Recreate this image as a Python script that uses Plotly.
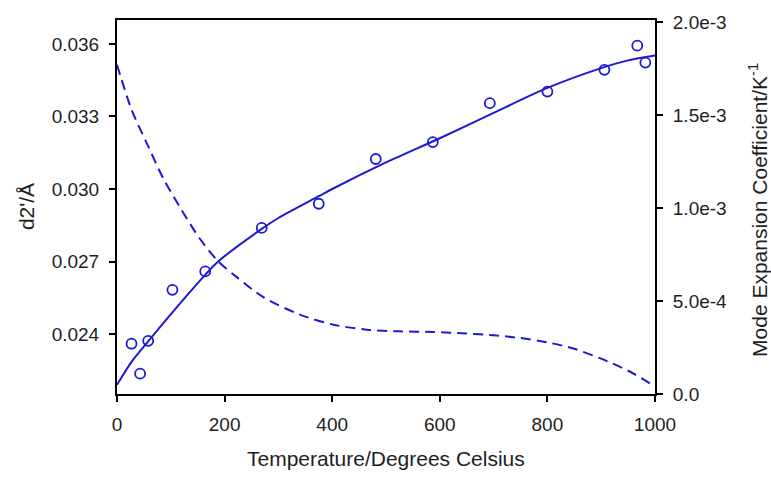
import plotly.graph_objects as go

# Observed d2' values (left axis)
temp_obs = [27, 43, 58, 103, 164, 269, 375, 481, 587, 693, 800, 906, 967, 982]
d2_obs = [0.02360, 0.02236, 0.02372, 0.02583, 0.02659, 0.02839, 0.02939,
          0.03124, 0.03194, 0.03355, 0.03403, 0.03493, 0.03593, 0.03523]

# Fitted d2' curve (left axis)
temp_fit = [0, 27, 58, 103, 164, 188, 269, 300, 375, 400, 500, 600, 700, 800, 900, 950, 1000]
d2_fit = [0.02190, 0.02285, 0.02370, 0.02490, 0.02645, 0.02700, 0.02835, 0.02880,
          0.02970, 0.03000, 0.03110, 0.03210, 0.03315, 0.03418, 0.03500, 0.03532, 0.03552]

# Mode expansion coefficient (right axis)
temp_coef = [0, 27, 55, 86, 120, 154, 188, 222, 272, 340, 402, 464, 526, 588, 650,
             700, 750, 800, 850, 900, 950, 1000]
coef = [1.771e-3, 1.530e-3, 1.351e-3, 1.160e-3, 0.990e-3, 0.835e-3, 0.714e-3, 0.630e-3,
        0.521e-3, 0.427e-3, 0.373e-3, 0.346e-3, 0.337e-3, 0.334e-3, 0.325e-3,
        0.316e-3, 0.301e-3, 0.278e-3, 0.243e-3, 0.190e-3, 0.125e-3, 0.041e-3]

x_ticks = [0, 200, 400, 600, 800, 1000]
left_ticks = [0.024, 0.027, 0.030, 0.033, 0.036]
right_ticks = [0.0, 5.0e-4, 1.0e-3, 1.5e-3, 2.0e-3]
right_tick_text = ["0.0", "5.0e-4", "1.0e-3", "1.5e-3", "2.0e-3"]

x_title = "Temperature/Degrees Celsius"
y_title = "d2'/Å"
y2_title = "Mode Expansion Coefficient/K<sup>-1</sup>"

blue = "#1a1ad6"
tick_font = dict(family="Liberation Sans, Arial, sans-serif", size=19, color="#1e1e1e")
title_font = dict(family="Liberation Sans, Arial, sans-serif", size=21, color="#1e1e1e")

fig = go.Figure()
fig.add_trace(go.Scatter(x=temp_fit, y=d2_fit, mode="lines",
                         line=dict(color=blue, width=2, shape="spline", smoothing=0.8),
                         showlegend=False, cliponaxis=False))
fig.add_trace(go.Scatter(x=temp_obs, y=d2_obs, mode="markers",
                         marker=dict(symbol="circle-open", size=10, color=blue,
                                     line=dict(width=1.8, color=blue)),
                         showlegend=False, cliponaxis=False))
fig.add_trace(go.Scatter(x=temp_coef, y=coef, mode="lines", yaxis="y2",
                         line=dict(color=blue, width=2, dash="10px,6px", shape="spline", smoothing=0.8),
                         showlegend=False, cliponaxis=False))

axis_common = dict(showline=True, linecolor="black", linewidth=2, ticks="outside",
                   ticklen=6, tickwidth=1.5, tickcolor="black", showgrid=False,
                   zeroline=False, tickfont=tick_font, automargin=False,
                   ticklabelstandoff=6)

fig.update_layout(
    width=771, height=478,
    margin=dict(l=117, r=116, t=20, b=84),
    paper_bgcolor="white", plot_bgcolor="white",
    font=tick_font,
    xaxis=dict(range=[0, 1000], tickvals=x_ticks, mirror=True, **axis_common),
    yaxis=dict(range=[0.02152, 0.03699], tickvals=left_ticks, tickformat=".3f",
               **axis_common),
    yaxis2=dict(range=[0, 2.012e-3], tickvals=right_ticks, ticktext=right_tick_text,
                overlaying="y", side="right", **axis_common),
    annotations=[
        dict(text=x_title, xref="paper", yref="paper", x=0.5, y=-0.172,
             xanchor="center", yanchor="middle", showarrow=False, font=title_font),
        dict(text=y_title, xref="paper", yref="paper", x=-0.169, y=0.5, textangle=-90,
             xanchor="center", yanchor="middle", showarrow=False, font=title_font),
        dict(text=y2_title, xref="paper", yref="paper", x=1.1914, y=0.492, textangle=-90,
             xanchor="center", yanchor="middle", showarrow=False, font=title_font),
    ],
)

fig.write_html("out.html")
